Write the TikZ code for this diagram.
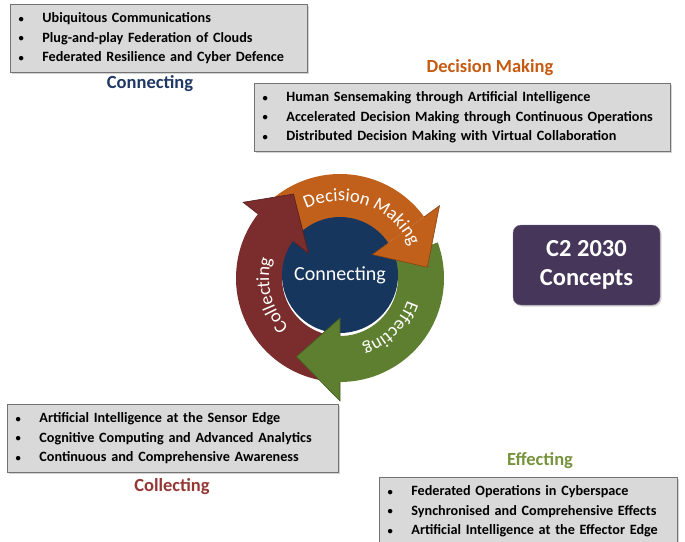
\documentclass[tikz,border=0pt]{standalone}
\usepackage{fontspec}
\setmainfont{Carlito}
\usetikzlibrary{shadows,decorations.text}

\definecolor{boxgray}{HTML}{D9D9D9}
\definecolor{dmorange}{HTML}{C0601B}
\definecolor{effgreen}{HTML}{5F7F30}
\definecolor{colred}{HTML}{7B2C2C}
\definecolor{connavy}{HTML}{17365D}
\definecolor{conceptpurple}{HTML}{45365A}
\definecolor{conntitle}{HTML}{1F3864}
\definecolor{dmtitle}{HTML}{C55A11}
\definecolor{coltitle}{HTML}{953735}
\definecolor{efftitle}{HTML}{76923C}

\newcommand\listfont{\bfseries\fontsize{14.2}{19.5}\selectfont}
\newcommand\titlefont{\bfseries\fontsize{18.5}{22}\selectfont}
\newcommand\arcfont{\fontsize{18.5}{22}\selectfont}
\newcommand\bul{\makebox[24pt][l]{\raisebox{0.5pt}{\scalebox{0.8}{$\bullet$}}}}

\tikzset{
    listbox/.style={draw=black!55, fill=boxgray, line width=0.8pt,
        drop shadow={shadow xshift=1.5pt, shadow yshift=-1.5pt, opacity=0.35},
        anchor=north west, text width=#1, minimum height=68pt,
        inner xsep=8pt, inner ysep=0pt, align=left, font=\listfont},
    listtitle/.style={font=\titlefont, text=#1},
    ringtext/.style={decorate, decoration={text along path, text align=center,
        text={|\color{white}\arcfont|#1}}},
}

\begin{document}
\begin{tikzpicture}[x=1pt, y=1pt]
    \useasboundingbox (0,0) rectangle (685,-541);
    \clip (0,0) rectangle (685,-541);

    % the four lists and their titles
    \node[listbox=281pt] (connlist) at (10,-4)
        {\bul Ubiquitous Communications\\ \bul Plug-and-play Federation of Clouds\\ \bul Federated Resilience and Cyber Defence};
    \node[listtitle=conntitle] (conntitlenode) at (150,-84) {Connecting};

    \node[listtitle=dmtitle] (dmtitlenode) at (490,-68) {Decision Making};
    \node[listbox=400pt] (dmlist) at (254,-83)
        {\bul Human Sensemaking through Artificial Intelligence\\ \bul Accelerated Decision Making through Continuous Operations\\ \bul Distributed Decision Making with Virtual Collaboration};

    \node[listbox=315pt] (collist) at (7,-404)
        {\bul Artificial Intelligence at the Sensor Edge\\ \bul Cognitive Computing and Advanced Analytics\\ \bul Continuous and Comprehensive Awareness};
    \node[listtitle=coltitle] (coltitlenode) at (172,-487) {Collecting};

    \node[listtitle=efftitle] (efftitlenode) at (540,-461) {Effecting};
    \node[listbox=282pt] (efflist) at (379,-477)
        {\bul Federated Operations in Cyberspace\\ \bul Synchronised and Comprehensive Effects\\ \bul Artificial Intelligence at the Effector Edge};

    \node[rounded corners=8pt, fill=conceptpurple, draw=conceptpurple!70!white,
        minimum width=147pt, minimum height=80pt, text=white, align=center,
        font=\bfseries\fontsize{24.5}{29}\selectfont,
        drop shadow={shadow xshift=1.5pt, shadow yshift=-1.5pt, opacity=0.35}]
        (concepts) at (586.5,-265) {C2 2030\\Concepts};

    % the cycle
    \begin{scope}[shift={(340,-278)}]
        \foreach \s/\b/\c in {135/36/dmorange, 20/-90/effgreen, 262/141/colred}
            \fill[\c] (\s:104) arc[start angle=\s, end angle=\b, radius=104]
                -- (\b:58) arc[start angle=\b, end angle=\s, radius=58] -- cycle;
        \node[circle, fill=connavy, minimum size=116pt, inner sep=0pt, text=white,
            font=\fontsize{20}{24}\selectfont] (hub) at (0,3) {Connecting};
        \foreach \b/\t/\r/\c in {36/7/88/dmorange, -90/-119/90/effgreen, 142/119/96/colred}{
            \fill[\c] (\b:40) -- (\b:123) -- (\t:\r) -- cycle;
            \draw[\c!70!black, line width=0.6pt] (\b:104) -- (\b:123) -- (\t:\r) -- (\b:40) -- (\b:58);
        }
        \path[ringtext={Decision Making}] (140:77) arc[start angle=140, end angle=0, radius=77];
        \path[ringtext={Effecting}] (25:71) arc[start angle=25, end angle=-115, radius=71];
        \path[ringtext={Collecting}] (264:71) arc[start angle=264, end angle=124, radius=71];
    \end{scope}
\end{tikzpicture}
\end{document}
